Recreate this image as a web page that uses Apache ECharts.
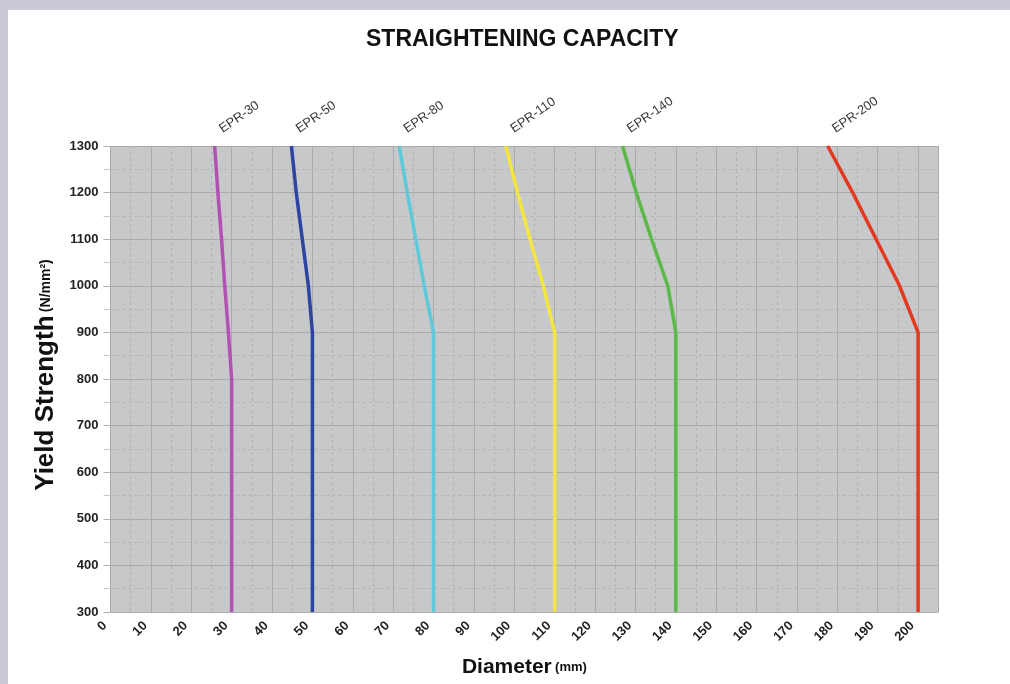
<!DOCTYPE html>
<html>
<head>
<meta charset="utf-8">
<script src="https://cdn.jsdelivr.net/npm/echarts@6/dist/echarts.min.js"></script>
<style>
  html, body { margin: 0; padding: 0; background: #c9cad6; width: 1010px; height: 684px; overflow: hidden; }
  #chart { position: absolute; left: 8px; top: 10px; width: 1002px; height: 674px; background: #ffffff; }
</style>
</head>
<body>
<div id="chart"></div>
<script>
// Yield strength levels (N/mm²) at which each curve is read
const yieldLevels = [300, 800, 900, 1000, 1100, 1200, 1300];
// Diameter (mm) for each model at the levels above
const epr30 = [30, 30, 29.2, 28.3, 27.5, 26.6, 25.8];
const epr50 = [50, 50, 50, 49, 47.5, 46, 44.8];
const epr80 = [80, 80, 80, 77.7, 75.6, 73.5, 71.5];
const epr110 = [110, 110, 110, 107.2, 103.9, 100.8, 97.9];
const epr140 = [140, 140, 140, 138, 134, 130.2, 126.8];
const epr200 = [200, 200, 200, 195.4, 189.6, 183.8, 177.6];
const seriesNames = ['EPR-30', 'EPR-50', 'EPR-80', 'EPR-110', 'EPR-140', 'EPR-200'];
const seriesValues = [epr30, epr50, epr80, epr110, epr140, epr200];
const seriesColors = ['#b151b2', '#2e44a3', '#5ecad9', '#f2e63f', '#5cb949', '#e2391f'];

const FONT = 'Liberation Sans, Arial, sans-serif';
const chart = echarts.init(document.getElementById('chart'));

const lineSeries = seriesNames.map((name, i) => ({
  name: name,
  type: 'line',
  data: seriesValues[i].map((d, j) => [d, yieldLevels[j]]),
  showSymbol: false,
  symbol: 'none',
  clip: false,
  lineStyle: { color: seriesColors[i], width: 3.5 },
  itemStyle: { color: seriesColors[i] },
  z: 3
}));

const labelSeries = {
  type: 'scatter',
  symbolSize: 0,
  silent: true,
  clip: false,
  data: seriesNames.map((name, i) => ({
    name: name,
    value: [seriesValues[i][seriesValues[i].length - 1], yieldLevels[yieldLevels.length - 1]]
  })),
  label: {
    show: true,
    formatter: p => p.name,
    position: 'right',
    distance: 0,
    rotate: 35,
    align: 'left',
    verticalAlign: 'bottom',
    offset: [14, -3],
    color: '#000',
    fontSize: 13,
    fontFamily: FONT
  },
  z: 4
};

chart.setOption({
  animation: false,
  title: {
    text: 'STRAIGHTENING CAPACITY',
    left: 353,
    top: 13,
    textStyle: { fontSize: 23, fontWeight: 'bold', color: '#111', fontFamily: FONT }
  },
  grid: {
    left: 102.5, right: 71.7, top: 136, bottom: 72,
    outerBoundsMode: 'none',
    containLabel: false,
    show: true, backgroundColor: '#c7c8ca', borderWidth: 0
  },
  xAxis: {
    type: 'value',
    min: 0, max: 205, interval: 10,
    name: '{a|Diameter} {b|(mm)}',
    nameLocation: 'middle',
    nameGap: 45,
    nameTextStyle: {
      rich: {
        a: { fontSize: 21, fontWeight: 'bold', color: '#111', fontFamily: FONT },
        b: { fontSize: 13, fontWeight: 'bold', color: '#111', fontFamily: FONT }
      }
    },
    axisLine: { show: false },
    axisTick: { show: false },
    minorTick: { show: false, splitNumber: 2 },
    axisLabel: {
      rotate: 45, showMaxLabel: false, margin: 6,
      padding: [0, 8, 0, 0],
      color: '#222', fontSize: 13, fontWeight: 'bold', fontFamily: FONT
    },
    splitLine: { show: true, lineStyle: { color: '#a9aaac', width: 1 } },
    minorSplitLine: { show: true, lineStyle: { color: '#b2b3b5', width: 1, type: [3, 3] } }
  },
  yAxis: {
    type: 'value',
    min: 300, max: 1300, interval: 100,
    name: '{a|Yield Strength} {b|(N/mm²)}',
    nameLocation: 'middle',
    nameGap: 47,
    nameRotate: 90,
    nameTextStyle: {
      padding: [0, 0, 0, 8],
      rich: {
        a: { fontSize: 26, fontWeight: 'bold', color: '#111', fontFamily: FONT },
        b: { fontSize: 14, fontWeight: 'bold', color: '#111', fontFamily: FONT }
      }
    },
    axisLine: { show: false },
    axisTick: { show: true, length: 7, lineStyle: { color: '#b0b0b0' } },
    minorTick: { show: true, splitNumber: 2, length: 7, lineStyle: { color: '#c8c8c8' } },
    axisLabel: {
      margin: 12, color: '#222', fontSize: 13, fontWeight: 'bold', fontFamily: FONT,
      formatter: v => String(v)
    },
    splitLine: { show: true, lineStyle: { color: '#a9aaac', width: 1 } },
    minorSplitLine: { show: true, lineStyle: { color: '#b2b3b5', width: 1, type: [3, 3] } }
  },
  series: lineSeries.concat([labelSeries])
});
</script>
</body>
</html>
